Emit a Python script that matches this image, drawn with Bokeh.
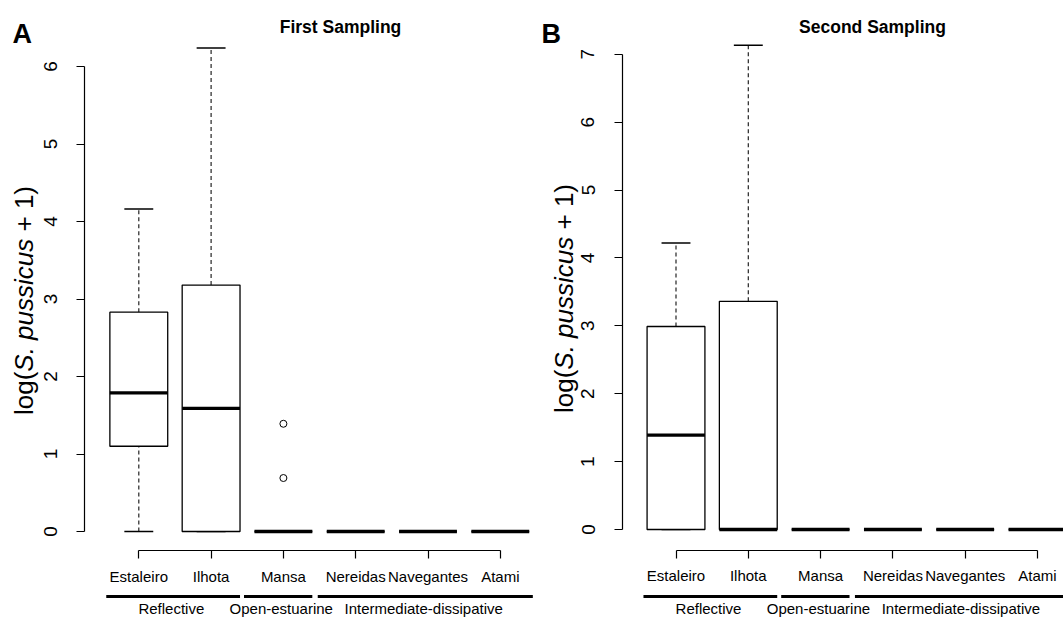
from math import pi
from bokeh.plotting import figure
from bokeh.models import Range1d, FixedTicker, Label, ColumnDataSource, LinearAxis
from bokeh.layouts import row
from bokeh.embed import file_html
from bokeh.resources import INLINE

# ---------------- data ----------------
sites = ["Estaleiro", "Ilhota", "Mansa", "Nereidas", "Navegantes", "Atami"]
groups = ["Reflective", "Open-estuarine", "Intermediate-dissipative"]
group_spans = [(0.55, 2.40), (2.455, 3.40), (3.475, 6.45)]
group_centers = [1.45, 2.97, 4.94]

first_low = [0.0, 0.0, 0.0, 0.0, 0.0, 0.0]
first_q1 = [1.10, 0.0, 0.0, 0.0, 0.0, 0.0]
first_median = [1.79, 1.59, 0.0, 0.0, 0.0, 0.0]
first_q3 = [2.83, 3.18, 0.0, 0.0, 0.0, 0.0]
first_high = [4.16, 6.24, 0.0, 0.0, 0.0, 0.0]
first_outlier_site = ["Mansa", "Mansa"]
first_outlier_value = [0.69, 1.39]

second_low = [0.0, 0.0, 0.0, 0.0, 0.0, 0.0]
second_q1 = [0.0, 0.0, 0.0, 0.0, 0.0, 0.0]
second_median = [1.39, 0.0, 0.0, 0.0, 0.0, 0.0]
second_q3 = [2.99, 3.36, 0.0, 0.0, 0.0, 0.0]
second_high = [4.22, 7.13, 0.0, 0.0, 0.0, 0.0]
second_outlier_site = []
second_outlier_value = []

first_yticks = [0, 1, 2, 3, 4, 5, 6]
second_yticks = [0, 1, 2, 3, 4, 5, 6, 7]

FONT = "Liberation Sans"
H = 619

# page-pixel geometry of each panel
LEFT = dict(cl=0, cr=538, site1=138.3, dx=72.3, y0=531, uy=77.5, yaxis_px=84, xaxis_px=550,
            letter_x=12, title_x=340, ylab_x=23, ylab_y=300)
RIGHT = dict(cl=538, cr=1063, site1=675.5, dx=72.3, y0=529, uy=67.9, yaxis_px=622, xaxis_px=549.5,
             letter_x=541, title_x=872, ylab_x=563, ylab_y=298)


def make_panel(letter, title, low, q1, med, q3, high, out_site, out_val, yticks, L):
    X = lambda px: 1 + (px - L["site1"]) / L["dx"]
    Y = lambda py: (L["y0"] - py) / L["uy"]

    p = figure(width=L["cr"] - L["cl"], height=H,
               x_range=Range1d(X(L["cl"]), X(L["cr"])), y_range=Range1d(Y(H), Y(0)),
               output_backend="svg", toolbar_location=None,
               x_axis_location=None, y_axis_location=None,
               min_border=0, min_border_left=0, min_border_right=0,
               min_border_top=0, min_border_bottom=0)
    p.xgrid.visible = False
    p.ygrid.visible = False
    p.outline_line_color = None
    p.background_fill_color = "white"
    p.border_fill_color = "white"

    xs = list(range(1, len(sites) + 1))
    src = ColumnDataSource(dict(
        x=xs, low=low, q1=q1, med=med, q3=q3, high=high,
        bl=[x - 0.4 for x in xs], br=[x + 0.4 for x in xs],
        cl=[x - 0.2 for x in xs], cr=[x + 0.2 for x in xs],
    ))
    # whiskers
    p.segment(x0="x", y0="q3", x1="x", y1="high", source=src, line_color="#222222",
              line_width=1.2, line_dash="4 3")
    p.segment(x0="x", y0="low", x1="x", y1="q1", source=src, line_color="#222222",
              line_width=1.2, line_dash="4 3")
    # staples
    p.segment(x0="cl", y0="high", x1="cr", y1="high", source=src, line_color="black", line_width=1.5)
    p.segment(x0="cl", y0="low", x1="cr", y1="low", source=src, line_color="black", line_width=1.5)
    # boxes
    p.vbar(x="x", width=0.8, bottom="q1", top="q3", source=src, fill_color="white",
           line_color="black", line_width=1.3)
    # medians
    p.segment(x0="bl", y0="med", x1="br", y1="med", source=src, line_color="black",
              line_width=3.3, line_cap="butt")
    # outliers
    if out_val:
        p.scatter(x=[sites.index(s) + 1 for s in out_site], y=out_val, marker="circle", size=7,
                  fill_color=None, line_color="black", line_width=1)

    # axes (R style: lines only between first and last tick)
    xa = LinearAxis(fixed_location=Y(L["xaxis_px"]), ticker=FixedTicker(ticks=xs),
                    bounds=(1, len(sites)),
                    major_label_overrides={x: s for x, s in zip(xs, sites)})
    ya = LinearAxis(fixed_location=X(L["yaxis_px"]), ticker=FixedTicker(ticks=yticks),
                    bounds=(yticks[0], yticks[-1]), major_label_orientation="vertical")
    for ax in (xa, ya):
        ax.axis_line_color = "black"
        ax.axis_line_width = 1.2
        ax.major_tick_line_color = "black"
        ax.major_tick_line_width = 1.2
        ax.major_tick_out = 8
        ax.major_tick_in = 0
        ax.minor_tick_line_color = None
        ax.major_label_text_font = FONT
        ax.major_label_text_color = "black"
    xa.major_label_text_font_size = "15px"
    ya.major_label_text_font_size = "19px"
    xa.major_label_standoff = 9
    ya.major_label_standoff = 20
    p.add_layout(xa, "below")
    p.add_layout(ya, "left")

    # group underlines and labels
    p.segment(x0=[a for a, b in group_spans], x1=[b for a, b in group_spans],
              y0=[Y(596)] * len(groups), y1=[Y(596)] * len(groups),
              line_color="black", line_width=3, line_cap="butt")
    for g, c in zip(groups, group_centers):
        p.add_layout(Label(x=c, y=Y(607.5), text=g, text_align="center", text_baseline="middle",
                           text_font=FONT, text_font_size="15px", text_color="black"))

    # panel letter and title
    p.add_layout(Label(x=X(L["letter_x"]), y=Y(33), text=letter, text_align="left",
                       text_baseline="alphabetic", text_font=FONT, text_font_size="27px",
                       text_font_style="bold", text_color="black"))
    p.add_layout(Label(x=X(L["title_x"]), y=Y(26), text=title, text_align="center",
                       text_baseline="alphabetic", text_font=FONT, text_font_size="17.5px",
                       text_font_style="bold", text_color="black"))

    # y axis label with italic species name (pieces laid end to end, bottom to top)
    fs = 26
    pieces = [("log(", "normal", 1.667, 0.0), ("S. pussicus", "italic", 5.113, 0.0),
              ("+ 1)", "normal", 1.751, 0.278)]
    total = sum(w + lead for _, _, w, lead in pieces) * fs
    start = L["ylab_y"] + total / 2
    for txt, style, w, lead in pieces:
        start -= lead * fs
        p.add_layout(Label(x=X(L["ylab_x"]), y=Y(start), text=txt, angle=pi / 2,
                           text_align="left", text_baseline="middle", text_font=FONT,
                           text_font_size=f"{fs}px", text_font_style=style, text_color="black"))
        start -= w * fs
    return p


p1 = make_panel("A", "First Sampling", first_low, first_q1, first_median, first_q3, first_high,
                first_outlier_site, first_outlier_value, first_yticks, LEFT)
p2 = make_panel("B", "Second Sampling", second_low, second_q1, second_median, second_q3, second_high,
                second_outlier_site, second_outlier_value, second_yticks, RIGHT)

layout = row(p1, p2)
open("out.html", "w").write(file_html(layout, INLINE))
